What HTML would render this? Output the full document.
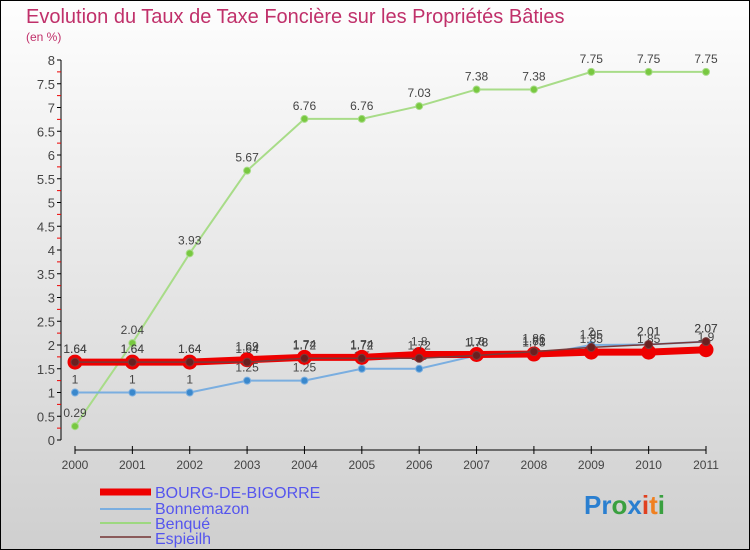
<!DOCTYPE html>
<html><head><meta charset="utf-8"><style>
body{margin:0}
#c{width:750px;height:550px;position:relative;overflow:hidden;background:linear-gradient(#fefefe,#cfcfcf);font-family:"Liberation Sans",sans-serif}
</style></head><body>
<div id="c">
<svg id="s" width="750" height="550" style="position:absolute;left:0;top:0">
<rect x="0.5" y="0.5" width="749" height="549" fill="none" stroke="#000"/>
<text x="26" y="23" font-size="20" fill="#c0306a">Evolution du Taux de Taxe Foncière sur les Propriétés Bâties</text>
<text x="26" y="41" font-size="12" fill="#c0306a">(en %)</text>
<g id="axes"></g><g id="series"></g>
<g font-size="16" fill="#5555ee">
<line x1="100" y1="492" x2="151" y2="492" stroke="#e00" stroke-width="7"/>
<text x="155" y="498">BOURG-DE-BIGORRE</text>
<line x1="100" y1="509" x2="151" y2="509" stroke="#7aaee0" stroke-width="2"/>
<text x="155" y="514">Bonnemazon</text>
<line x1="100" y1="523" x2="151" y2="523" stroke="#9dd880" stroke-width="2"/>
<text x="155" y="529">Benqué</text>
<line x1="100" y1="537" x2="151" y2="537" stroke="#8a5a5a" stroke-width="2"/>
<text x="155" y="544">Espieilh</text>
</g>
<text x="584" y="514" font-size="26" font-weight="bold"><tspan fill="#2a7fd0">Pr</tspan><tspan fill="#3aa040">o</tspan><tspan fill="#2a7fd0">x</tspan><tspan fill="#e04020">i</tspan><tspan fill="#f08020">t</tspan><tspan fill="#3aa040">i</tspan></text>
</svg>
</div>
<script>
const years=[2000,2001,2002,2003,2004,2005,2006,2007,2008,2009,2010,2011];
const bourg=[1.64,1.64,1.64,1.69,1.74,1.74,1.8,1.8,1.81,1.85,1.85,1.9];
const bonnemazon=[1,1,1,1.25,1.25,1.5,1.5,1.78,1.78,2.0,2.01,2.07];
const benque=[0.29,2.04,3.93,5.67,6.76,6.76,7.03,7.38,7.38,7.75,7.75,7.75];
const espieilh=[1.64,1.64,1.64,1.64,1.72,1.72,1.72,1.78,1.86,1.95,2.01,2.07];
const yTicks=[0,0.5,1,1.5,2,2.5,3,3.5,4,4.5,5,5.5,6,6.5,7,7.5,8];
const NS='http://www.w3.org/2000/svg';
const X=i=>75+i*(706-75)/(years.length-1);
const Y=v=>440-v*47.5;
function mk(p,tag,a){const e=document.createElementNS(NS,tag);for(const k in a)e.setAttribute(k,a[k]);p.appendChild(e);return e;}
const ax=document.getElementById('axes');
const ya=mk(ax,'line',{x1:61,y1:Y(0),x2:61,y2:Y(8),stroke:'#000'});


yTicks.forEach(t=>{
 mk(ax,'line',{x1:57,y1:Y(t),x2:61,y2:Y(t),stroke:'#000'});
 if(t<8)mk(ax,'line',{x1:57,y1:Y(t+0.25),x2:61,y2:Y(t+0.25),stroke:'#e00'});
 const l=mk(ax,'text',{x:55,y:Y(t)+5,'font-size':13,'text-anchor':'end',fill:'#444'});l.textContent=t;
 
 
});
const xa=mk(ax,'line',{x1:X(0),y1:450,x2:X(11),y2:450,stroke:'#000'});


years.forEach((y,i)=>{
 mk(ax,'line',{x1:X(i),y1:446,x2:X(i),y2:454,stroke:'#000'});
 const l=mk(ax,'text',{x:X(i),y:469,'font-size':12,'text-anchor':'middle',fill:'#444'});l.textContent=y;
 
 
});
const sg=document.getElementById('series');
function draw(name,vals,col,w,r,fill){
 const g=mk(sg,'g',{});
 
 
 mk(g,'polyline',{points:vals.map((v,i)=>X(i)+','+Y(v)).join(' '),fill:'none',stroke:col,'stroke-width':w});
 vals.forEach((v,i)=>{
  const c=mk(g,'circle',{cx:X(i),cy:Y(v),r:r,fill:fill,stroke:col,'stroke-width':1});
  
  
  const t=mk(g,'text',{x:X(i),y:Y(v)-9,'font-size':12,'text-anchor':'middle',fill:'#444'});t.textContent=v;
  
  
 });
}
draw('benque-series',benque,'#a8dc88',2,3.5,'#78c840');
draw('bonnemazon-series',bonnemazon,'#7aaee0',2,3.5,'#3a88cc');
draw('bourg-series',bourg,'#ee0000',7,7,'#ee0000');
draw('espieilh-series',espieilh,'#7a3a3a',1.5,4,'#6a2020');
</script>
</body></html>
